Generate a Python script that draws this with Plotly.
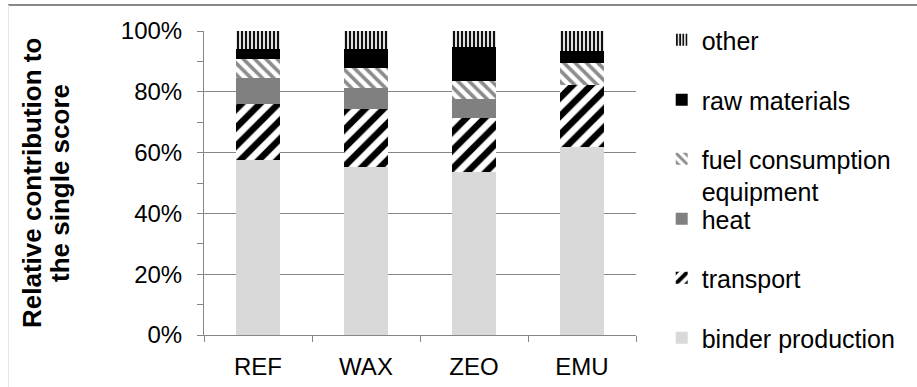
import plotly.graph_objects as go

categories = ["REF", "WAX", "ZEO", "EMU"]
binder_production = [57.6, 55.4, 53.6, 61.8]
transport = [18.4, 18.8, 17.7, 20.5]
heat = [8.6, 6.9, 6.3, 0.0]
fuel_consumption_equipment = [6.1, 6.6, 6.1, 7.3]
raw_materials = [3.4, 6.4, 11.0, 3.9]
other = [5.9, 5.9, 5.3, 6.5]
y_ticks = [0, 20, 40, 60, 80, 100]
y_tick_labels = ["0%", "20%", "40%", "60%", "80%", "100%"]
y_title_lines = ["Relative contribution to", "the single score"]

FONT = "Liberation Sans, Arial, sans-serif"
FS = 24
LFS = 25

series = [
    ("binder production", binder_production, dict(color="#d9d9d9"), "legend6"),
    ("transport", transport, dict(color="white", pattern=dict(shape="/", fgcolor="black", bgcolor="white", fgopacity=1, size=13, solidity=0.5)), "legend5"),
    ("heat", heat, dict(color="#808080"), "legend4"),
    ("fuel consumption<br>equipment", fuel_consumption_equipment, dict(color="white", pattern=dict(shape="\\", fgcolor="#8c8c8c", bgcolor="white", fgopacity=1, size=8, solidity=0.45)), "legend3"),
    ("raw materials", raw_materials, dict(color="black"), "legend2"),
    ("other", other, dict(color="white", pattern=dict(shape="|", fgcolor="#111111", bgcolor="#e0e0e0", fgopacity=1, size=4, solidity=0.5)), "legend"),
]

fig = go.Figure()
for name, vals, marker, leg in series:
    fig.add_trace(go.Bar(x=categories, y=vals, name=name, marker=dict(line=dict(width=0), **marker),
                         width=0.4, legend=leg))

W, H = 917, 387
L, R, T, B = 204, 281, 31, 52
pw = W - L - R
ph = H - T - B

def ly(px):
    return (H - B - px) / ph

def lx(px):
    return (px - L) / pw

leg_common = dict(x=1.0595, xanchor="left", font=dict(family=FONT, size=LFS, color="black"),
                  bgcolor="rgba(0,0,0,0)", borderwidth=0, visible=True)

annotations = []
for i, line in enumerate(y_title_lines):
    annotations.append(dict(text="<b>%s</b>" % line, textangle=-90, xref="paper", yref="paper",
                            x=lx([32, 60][i]), y=ly(183), xanchor="center", yanchor="middle",
                            showarrow=False, font=dict(family=FONT, size=26, color="black")))

fig.update_layout(
    barmode="stack",
    width=W, height=H,
    margin=dict(l=L, r=R, t=T, b=B, autoexpand=False),
    paper_bgcolor="white", plot_bgcolor="white",
    font=dict(family=FONT, size=FS, color="black"),
    showlegend=True,
    legend=dict(y=ly(40), yanchor="middle", **leg_common),
    legend2=dict(y=ly(100), yanchor="middle", **leg_common),
    legend3=dict(y=ly(136), yanchor="top", valign="top", **leg_common),
    legend4=dict(y=ly(219), yanchor="middle", **leg_common),
    legend5=dict(y=ly(278), yanchor="middle", **leg_common),
    legend6=dict(y=ly(338), yanchor="middle", **leg_common),
    xaxis=dict(showline=True, linecolor="#868686", linewidth=1, ticks="outside", tickson="boundaries",
               ticklen=6, tickcolor="#868686", showgrid=False, ticklabelstandoff=10,
               tickfont=dict(family=FONT, size=FS, color="black")),
    yaxis=dict(range=[0, 100], tickvals=y_ticks, ticktext=y_tick_labels, showline=True, linecolor="#868686",
               linewidth=1, ticks="outside", ticklen=6, tickcolor="#868686", showgrid=True,
               gridcolor="#868686", gridwidth=1, ticklabelstandoff=10,
               minor=dict(dtick=10, ticks="outside", ticklen=6, tickcolor="#868686", showgrid=False),
               tickfont=dict(family=FONT, size=FS, color="black")),
    annotations=annotations,
    shapes=[
        dict(type="line", xref="paper", yref="paper", layer="above", x0=lx(8), x1=lx(W), y0=ly(5), y1=ly(5),
             line=dict(color="#888888", width=2)),
        dict(type="line", xref="paper", yref="paper", layer="above", x0=lx(8.5), x1=lx(8.5), y0=ly(5), y1=ly(H),
             line=dict(color="#e8e8e8", width=1)),
    ],
)

fig.write_html("out.html", config={"displayModeBar": False},
               post_script="document.body.style.margin='0';document.body.style.overflow='hidden';")
